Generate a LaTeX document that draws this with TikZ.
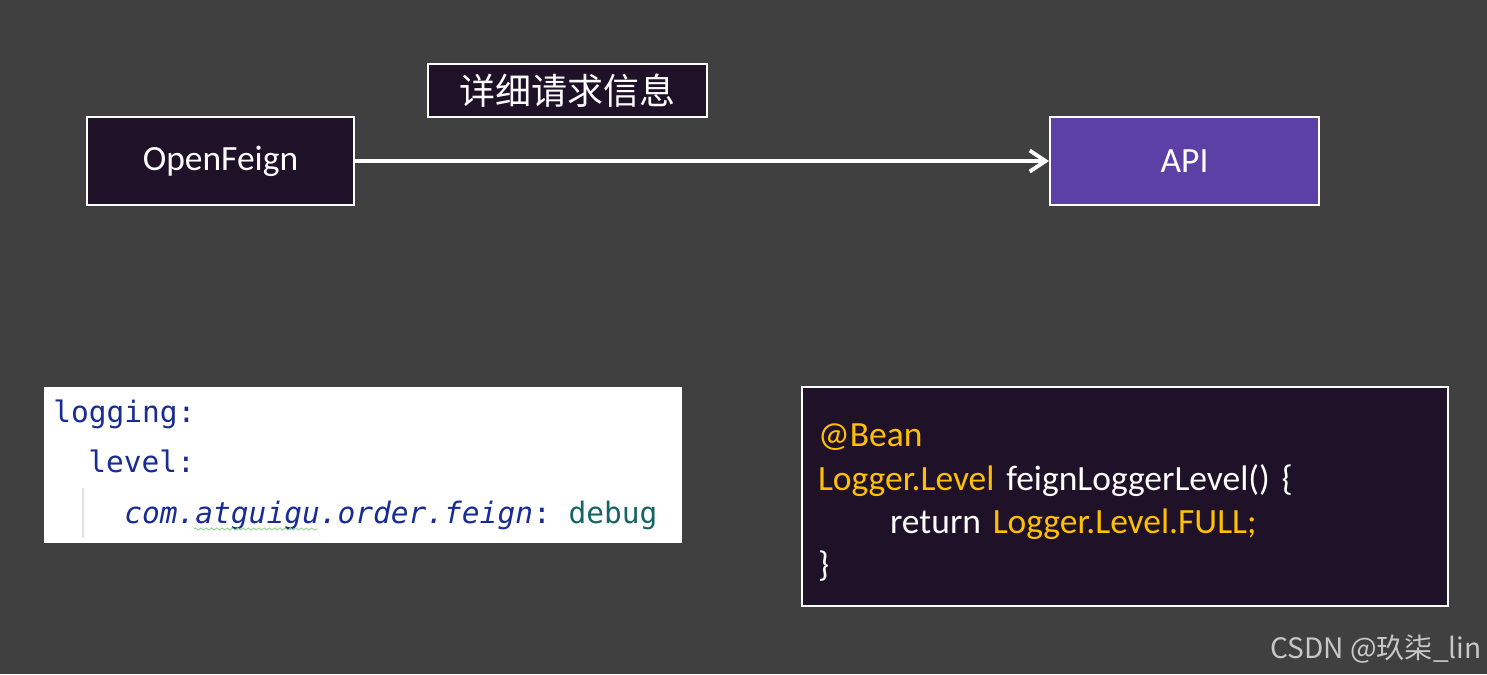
\documentclass[tikz,border=0pt]{standalone}
\usepackage{fontspec}
\setmainfont{Carlito}
\setmonofont{DejaVu Sans Mono}
\newfontfamily\cjk{Noto Sans CJK SC}
\usepackage{tikz}
\usetikzlibrary{arrows.meta,positioning,decorations.pathmorphing}
\definecolor{bgdark}{RGB}{64,64,64}
\definecolor{boxdark}{RGB}{30,17,40}
\definecolor{apipurple}{RGB}{92,64,166}
\definecolor{codegold}{RGB}{255,192,0}
\definecolor{yamlkey}{RGB}{24,44,150}
\definecolor{yamlval}{RGB}{22,100,100}

\begin{document}
\begin{tikzpicture}[x=0.02cm,y=-0.02cm,>=Latex,
  b/.style={draw=white,line width=1.2pt,fill=boxdark,text=white,minimum width=5.34cm,
    minimum height=1.76cm,font=\fontsize{20.2}{24}\selectfont},
  yml/.style={anchor=base west,inner sep=0pt,font=\ttfamily\fontsize{16.8}{20}\selectfont}]
\fill[bgdark] (0,0) rectangle (1487,674);
\useasboundingbox (0,0) rectangle (1487,674);
% top row
\node[b] (feign) at (220.5,161) {OpenFeign};
\node[b,fill=apipurple,minimum width=5.38cm] (api) at (1184.5,161) {API};
\node[b,minimum width=5.58cm,minimum height=1.06cm,font=\cjk\fontsize{20.5}{24}\selectfont] (info) at (567.5,90.5) {详细请求信息};
\draw[white,line width=2.2pt,line cap=round,-{Straight Barb[length=9pt,width=12pt]}] (feign) -- (api);
% yaml config
\node[fill=white,minimum width=12.76cm,minimum height=3.12cm,inner sep=0pt] (yaml) at (363,465) {};
\node[yml,text=yamlkey] (ylog) at (53,422) {logging:};
\node[yml,text=yamlkey] (ylvl) at (88,472) {level:};
\node[yml,text=yamlkey] (ypkg) at (124,523) {{\itshape com.atguigu.order.feign}:\ \textcolor{yamlval}{debug}};
\draw[black!12,line width=0.8pt] (83,488) -- (83,538);
\draw[decorate,decoration={snake,amplitude=0.6pt,segment length=3pt},green!40!gray!60,line width=0.5pt] (194,529) -- (318,529);
% java config
\node[b,minimum width=12.92cm,minimum height=4.38cm,text width=12.28cm,align=left,inner xsep=0.32cm,
  font=\fontsize{20.2}{24.6}\selectfont] (bean) at (1125,496.5)
  {\rule{0pt}{20pt}\textcolor{codegold}{@Bean}\\
   \textcolor{codegold}{Logger.Level} feignLoggerLevel() \{\\
   \hspace*{1.44cm}return \textcolor{codegold}{Logger.Level.FULL;}\\
   \}};
\node[anchor=base east,inner sep=0pt,text=white!78!black,font=\cjk\fontsize{16}{19}\selectfont] (mark) at (1482,658) {CSDN @玖柒\_lin};
\end{tikzpicture}
\end{document}
